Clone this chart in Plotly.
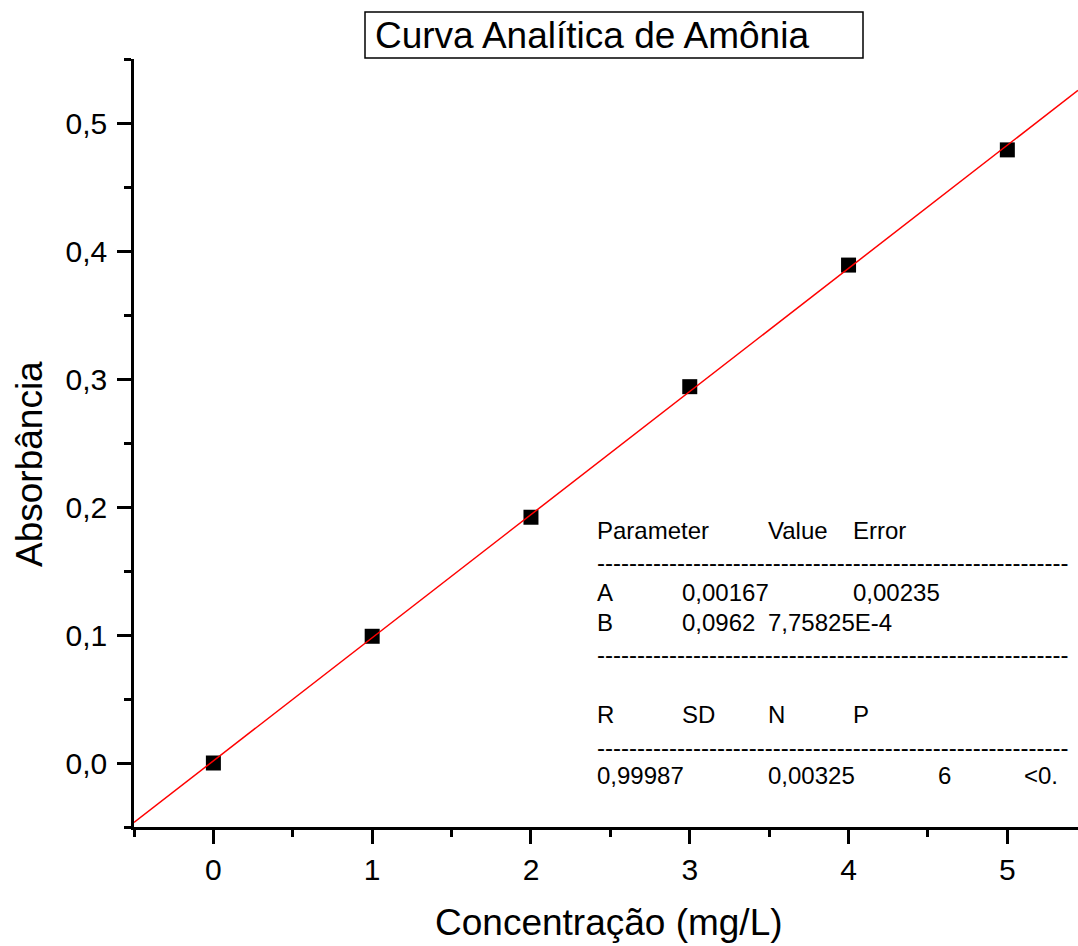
import plotly.graph_objects as go

# Calibration data: ammonia standards
concentracao = [0, 1, 2, 3, 4, 5]
absorbancia = [0.000, 0.099, 0.192, 0.294, 0.389, 0.479]

# Linear fit Y = A + B*X
fit_A = 0.00167
fit_B = 0.0962

x_ticks = [0, 1, 2, 3, 4, 5]
x_ticklabels = ["0", "1", "2", "3", "4", "5"]
y_ticks = [0.0, 0.1, 0.2, 0.3, 0.4, 0.5]
y_ticklabels = ["0,0", "0,1", "0,2", "0,3", "0,4", "0,5"]

# Fit report text
report_header = ["Parameter", "Value", "Error"]
report_A = ["A", "0,00167", "0,00235"]
report_B = ["B", "0,0962", "7,75825E-4"]
report_stats_head = ["R", "SD", "N", "P"]
report_stats = ["0,99987", "0,00325", "6", "<0."]

X_RANGE = [-0.5, 5.445]
Y_RANGE = [-0.05, 0.55]

W, H = 1078, 946
ML, MR, MT, MB = 134, 0, 59, 119
PW, PH = W - ML - MR, H - MT - MB
FONT = "Arial, Liberation Sans, sans-serif"


def px(xp):
    return (xp - ML) / PW


def py(yp):
    return (H - MB - yp) / PH


fit_x = list(X_RANGE)
fit_y = [fit_A + fit_B * v for v in fit_x]

fig = go.Figure()
fig.add_trace(go.Scatter(
    x=concentracao, y=absorbancia, mode="markers",
    marker=dict(symbol="square", size=15, color="black", line=dict(width=0)),
    showlegend=False,
))
fig.add_trace(go.Scatter(
    x=fit_x, y=fit_y, mode="lines",
    line=dict(color="#ff0000", width=1.5),
    showlegend=False,
))

annotations = []


def txt(text, xp, yp, size=24, xanchor="left", angle=0):
    annotations.append(dict(
        text=text, x=px(xp), y=py(yp), xref="paper", yref="paper",
        xanchor=xanchor, yanchor="middle", showarrow=False,
        textangle=angle, font=dict(family=FONT, size=size, color="black"),
    ))


# Fit report table
cols = [595, 680, 766, 851, 936, 1022]
txt(report_header[0], cols[0], 530)
txt(report_header[1], cols[2], 530)
txt(report_header[2], cols[3], 530)
dashes = "-" * 59
txt(dashes, cols[0], 562)
txt(report_A[0], cols[0], 592)
txt(report_A[1], cols[1], 592)
txt(report_A[2], cols[3], 592)
txt(report_B[0], cols[0], 622)
txt(report_B[1], cols[1], 622)
txt(report_B[2], cols[2], 622)
txt(dashes, cols[0], 654)
for label, c in zip(report_stats_head, [cols[0], cols[1], cols[2], cols[3]]):
    txt(label, c, 714)
txt(dashes, cols[0], 747)
for label, c in zip(report_stats, [cols[0], cols[2], cols[4], cols[5]]):
    txt(label, c, 775)

# Title and axis titles
txt("Curva Analítica de Amônia", 373, 36, size=37)
txt("Concentração (mg/L)", 609, 922, size=37, xanchor="center")
txt("Absorbância", 29, 464, size=37, xanchor="center", angle=-90)

shapes = [dict(
    type="rect", xref="paper", yref="paper",
    x0=px(365), x1=px(863), y0=py(12), y1=py(58),
    line=dict(color="black", width=1.5), fillcolor="rgba(0,0,0,0)",
)]

axis_common = dict(
    showline=True, linecolor="black", linewidth=2.5,
    ticks="outside", ticklen=14, tickwidth=2.5, tickcolor="black",
    showgrid=False, zeroline=False,
    tickfont=dict(family=FONT, size=30, color="black"),
)

fig.update_layout(
    width=W, height=H,
    margin=dict(l=ML, r=MR, t=MT, b=MB),
    paper_bgcolor="white", plot_bgcolor="white",
    xaxis=dict(range=X_RANGE, tickmode="array", tickvals=x_ticks,
               ticktext=x_ticklabels, ticklabelstandoff=0,
               minor=dict(tickmode="linear", tick0=-0.5, dtick=0.5, ticks="outside",
                          ticklen=7, tickwidth=2.5, tickcolor="black"),
               **axis_common),
    yaxis=dict(range=Y_RANGE, tickmode="array", tickvals=y_ticks,
               ticktext=y_ticklabels, ticklabelstandoff=4,
               minor=dict(tickmode="linear", tick0=-0.05, dtick=0.05, ticks="outside",
                          ticklen=7, tickwidth=2.5, tickcolor="black"),
               **axis_common),
    annotations=annotations,
    shapes=shapes,
)

fig.write_html("out.html")
